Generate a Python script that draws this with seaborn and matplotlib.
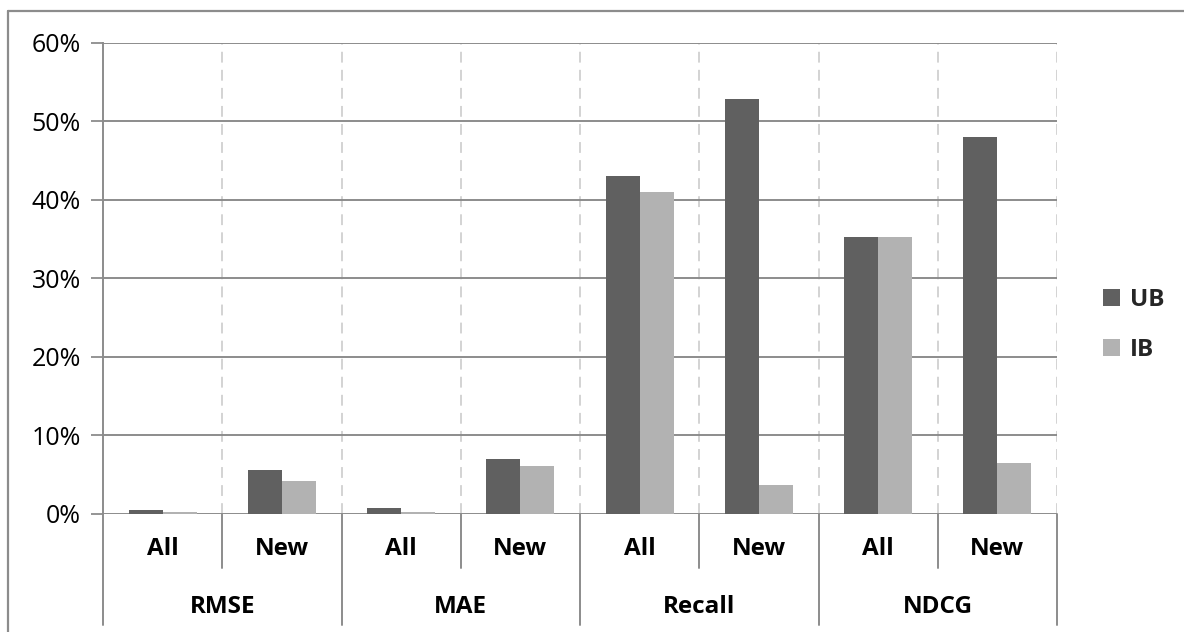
import matplotlib
matplotlib.use("Agg")
import matplotlib.pyplot as plt
import matplotlib.transforms as mtransforms
from matplotlib.lines import Line2D
from matplotlib.patches import Patch
import pandas as pd
import seaborn as sns

# ---- data ----
metrics = ["RMSE", "MAE", "Recall", "NDCG"]
subsets = ["All", "New"]
series = ["UB", "IB"]
ub_values = [0.5, 5.6, 0.7, 6.9, 43.0, 52.8, 35.2, 48.0]
ib_values = [0.2, 4.1, 0.2, 6.1, 41.0, 3.6, 35.2, 6.4]
yticks = [0, 10, 20, 30, 40, 50, 60]
colors = {"UB": "#606060", "IB": "#b2b2b2"}

slots = [f"{m}|{s}" for m in metrics for s in subsets]
df = pd.DataFrame({
    "slot": slots * 2,
    "value": ub_values + ib_values,
    "series": ["UB"] * len(slots) + ["IB"] * len(slots),
})

sns.set_theme(style="white")
plt.rcParams["font.family"] = ["Open Sans", "DejaVu Sans"]

W, H = 1184, 632
fig = plt.figure(figsize=(W / 100, H / 100), dpi=100)
ax = fig.add_axes([103 / W, 1 - 513.5 / H, (1057 - 103) / W, (513.5 - 43) / H])

sns.barplot(data=df, x="slot", y="value", hue="series", order=slots,
            hue_order=series, palette=colors, width=0.57, gap=0,
            saturation=1, edgecolor="none", linewidth=0, ax=ax, legend=False)

n = len(slots)
ax.set_xlim(-0.5, n - 0.5)
ax.set_ylim(0, 60)
ax.set_yticks(yticks)
ax.set_yticklabels([f"{v}%" for v in yticks], fontsize=18, color="#000000")
ax.tick_params(axis="y", length=9, width=1.3, color="#8c8c8c", pad=7, left=True)
ax.set_xticks([])
ax.set_xlabel("")
ax.set_ylabel("")

# gridlines
ax.grid(False)
for v in yticks:
    ax.axhline(v, color="#8c8c8c", lw=1.4, zorder=0.5)
for i in range(n):
    ax.axvline(i + 0.5, color="#d0d0d0", lw=1.3, ls=(0, (6, 4)), zorder=0.4)

for s in ["top", "right", "bottom"]:
    ax.spines[s].set_visible(False)
ax.spines["left"].set_color("#8c8c8c")
ax.spines["left"].set_linewidth(1.4)

# category axis (two levels)
trans = mtransforms.blended_transform_factory(ax.transData, fig.transFigure)
def fy(px):
    return 1 - px / H
gc = "#8c8c8c"
ax.add_line(Line2D([-0.5, -0.5], [fy(513.5), fy(625)], transform=trans,
                   color=gc, lw=1.4, clip_on=False))
for i in range(n):
    x = i + 0.5
    y2 = fy(625) if (i + 1) % len(subsets) == 0 else fy(568)
    ax.add_line(Line2D([x, x], [fy(513.5), y2], transform=trans,
                       color=gc, lw=1.4, clip_on=False))
for i, sl in enumerate(slots):
    sub = sl.split("|")[1]
    ax.text(i, fy(549), sub, transform=trans, ha="center", va="center",
            fontsize=17.5, fontweight="bold", color="#000000")
for j, m in enumerate(metrics):
    cx = j * len(subsets) + (len(subsets) - 1) / 2
    ax.text(cx, fy(607), m, transform=trans, ha="center", va="center",
            fontsize=17.5, fontweight="bold", color="#000000")

# legend
handles = [Patch(facecolor=colors[s], edgecolor="none", label=s) for s in series]
fig.legend(handles=handles, loc="center left",
           bbox_to_anchor=(1081 / W, 1 - 325 / H), frameon=False,
           prop={"weight": "bold", "size": 17.5}, handlelength=0.7,
           handleheight=0.7, handletextpad=0.4, labelspacing=1.1)

# outer chart frame
fig.add_artist(Line2D([8 / W, 1], [fy(11), fy(11)], transform=fig.transFigure,
                      color="#8c8c8c", lw=1.6))
fig.add_artist(Line2D([8 / W, 8 / W], [fy(11), 0], transform=fig.transFigure,
                      color="#8c8c8c", lw=1.6))

fig.savefig("out.png", dpi=100, facecolor="white")
